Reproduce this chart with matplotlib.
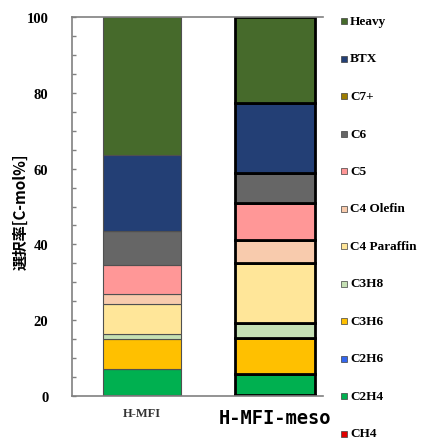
import matplotlib.pyplot as plt
import numpy as np
from matplotlib.ticker import MultipleLocator

catalysts = ['H-MFI', 'H-MFI-meso']
components = ['CH4', 'C2H4', 'C2H6', 'C3H6', 'C3H8', 'C4 Paraffin',
              'C4 Olefin', 'C5', 'C6', 'C7+', 'BTX', 'Heavy']
colors = ['#e00000', '#00b050', '#3366ee', '#ffc000', '#c5e0b4', '#ffe699',
          '#f8cbad', '#ff9797', '#666666', '#9c7c00', '#233f75', '#466a2b']

# selectivity [C-mol%] per component, bottom to top
h_mfi = [0.3, 6.8, 0.0, 7.9, 1.2, 8.0, 2.8, 7.5, 8.9, 0.0, 20.3, 36.3]
h_mfi_meso = [0.3, 5.4, 0.0, 9.6, 3.8, 15.9, 6.1, 9.8, 7.9, 0.0, 18.6, 22.6]

fig = plt.figure(figsize=(4.21, 4.39), dpi=100)
ax = fig.add_axes([72/421, 1 - 396.7/439, 251/421, 378.4/439])

x = np.arange(len(catalysts))
data = np.array([h_mfi, h_mfi_meso])
bottoms = np.zeros(len(catalysts))
for j, comp in enumerate(components):
    vals = data[:, j]
    ax.bar(x[0], vals[0], 0.59, bottom=bottoms[0], color=colors[j],
           edgecolor='#505050', linewidth=0.8)
    ax.bar(x[1], vals[1], 0.60, bottom=bottoms[1], color=colors[j],
           edgecolor='black', linewidth=2.0)
    bottoms += vals

ax.set_xlim(-0.526, 1.36)
ax.set_ylim(0, 100)
ax.yaxis.set_major_locator(MultipleLocator(20))
ax.yaxis.set_minor_locator(MultipleLocator(5))
ax.tick_params(axis='y', which='both', direction='in', length=3,
               color='#808080', width=1, pad=17)
ax.tick_params(axis='x', length=0, pad=8)
for lab in ax.get_yticklabels():
    lab.set_fontfamily('Liberation Serif')
    lab.set_fontweight('bold')
    lab.set_fontsize(10.5)

ax.set_xticks(x)
ax.set_xticklabels(catalysts)
xl = ax.get_xticklabels()
xl[0].set_fontfamily('Liberation Serif')
xl[0].set_fontweight('bold')
xl[0].set_fontsize(9)
xl[0].set_color('#333333')
xl[1].set_fontfamily('DejaVu Sans Mono')
xl[1].set_fontweight('bold')
xl[1].set_fontsize(13.5)
xl[1].set_y(-0.004)

for side in ['left', 'top', 'bottom']:
    ax.spines[side].set_color('#808080')
    ax.spines[side].set_linewidth(1.2)
ax.spines['right'].set_visible(False)

ax.set_ylabel('選択率[C-mol%]', family=['Noto Sans CJK JP', 'DejaVu Sans'],
              fontweight='bold', fontsize=11)
ax.yaxis.set_label_coords(-0.172, 0.49)

# legend on the right, Heavy on top
for i, comp in enumerate(reversed(components)):
    col = colors[len(components) - 1 - i]
    yy = 1 - (22 + i * 37.5) / 439
    fig.patches.append(plt.Rectangle((341/421, yy - 3/439), 6/421, 6/439,
                                     transform=fig.transFigure,
                                     facecolor=col, edgecolor='#404040',
                                     linewidth=0.5))
    fig.text(350/421, yy, comp, fontfamily='Liberation Serif',
             fontweight='bold', fontsize=9.5, va='center', ha='left')

fig.savefig('out.png', dpi=100)
